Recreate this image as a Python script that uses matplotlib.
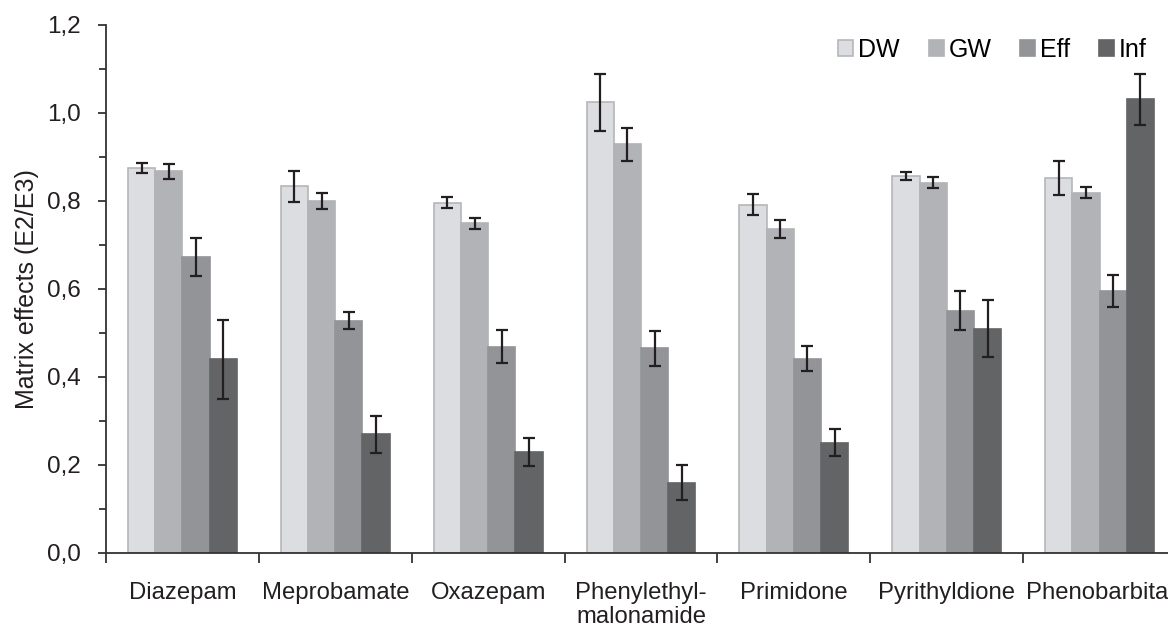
import matplotlib
matplotlib.use("Agg")
import matplotlib.pyplot as plt
import numpy as np

plt.rcParams['font.family'] = ['Liberation Sans', 'DejaVu Sans']

categories = ["Diazepam", "Meprobamate", "Oxazepam", "Phenylethyl-\nmalonamide",
              "Primidone", "Pyrithyldione", "Phenobarbital"]
series = ["DW", "GW", "Eff", "Inf"]
dw = [0.875, 0.833, 0.796, 1.024, 0.792, 0.857, 0.852]
gw = [0.868, 0.800, 0.749, 0.929, 0.737, 0.842, 0.819]
eff = [0.673, 0.528, 0.469, 0.465, 0.442, 0.551, 0.595]
inf = [0.440, 0.270, 0.230, 0.160, 0.251, 0.510, 1.031]
dw_err = [0.011, 0.035, 0.012, 0.064, 0.023, 0.009, 0.039]
gw_err = [0.017, 0.018, 0.013, 0.037, 0.020, 0.012, 0.013]
eff_err = [0.044, 0.020, 0.037, 0.040, 0.028, 0.044, 0.037]
inf_err = [0.090, 0.042, 0.032, 0.040, 0.031, 0.064, 0.058]

values = [dw, gw, eff, inf]
errors = [dw_err, gw_err, eff_err, inf_err]
colors = ["#dcdde0", "#b2b3b7", "#939498", "#636466"]
edges = ["#b5b6b9", "#b2b3b7", "#939498", "#636466"]

fig = plt.figure(figsize=(11.68, 6.27), dpi=100)
ax = fig.add_axes([106/1168, 74/627, 1070/1168, 528/627])

x = np.arange(len(categories))
w = 0.178
for i, (vals, errs) in enumerate(zip(values, errors)):
    pos = x + (i - 1.5) * w
    ax.bar(pos, vals, width=w, color=colors[i], edgecolor=edges[i],
           linewidth=1.2, label=series[i], zorder=2)
    ax.errorbar(pos, vals, yerr=errs, fmt='none', ecolor='#231f20',
                elinewidth=1.6, capsize=4.3, capthick=1.6, zorder=3)

ax.set_xlim(-0.5, len(categories) - 0.5)
ax.set_ylim(0, 1.2)
ax.set_yticks(np.arange(0, 1.21, 0.2))
ax.set_yticklabels([f"{v:.1f}".replace('.', ',') for v in np.arange(0, 1.21, 0.2)])
ax.set_yticks(np.arange(0.1, 1.2, 0.2), minor=True)
ax.set_xticks(np.arange(-0.5, len(categories) + 0.5, 1.0))
ax.set_xticklabels([])
ax.set_xticks(x, minor=True)
ax.set_xticklabels(categories, minor=True)

for s in ['top', 'right']:
    ax.spines[s].set_visible(False)
for s in ['left', 'bottom']:
    ax.spines[s].set_color('#333333')
    ax.spines[s].set_linewidth(1.3)

ax.tick_params(axis='y', which='major', length=6, width=1.3, color='#333333',
               labelsize=17.5, pad=12, labelcolor='#231f20')
ax.tick_params(axis='y', which='minor', length=5, width=1.3, color='#333333')
ax.tick_params(axis='x', which='major', length=7, width=1.3, color='#333333')
ax.tick_params(axis='x', which='minor', length=0, labelsize=17.2, pad=21,
               labelcolor='#231f20')
for lab in ax.get_xticklabels(minor=True):
    lab.set_linespacing(1.1)
    lab.set_verticalalignment('top')

ax.set_ylabel("Matrix effects (E2/E3)", fontsize=18, color='#231f20', labelpad=6)

leg = ax.legend(loc='upper right', bbox_to_anchor=((1157 - 106) / 1070, 0.995), ncol=4,
                frameon=False, fontsize=18, handlelength=0.6, handleheight=0.6,
                handletextpad=0.2, columnspacing=1.15, borderaxespad=0.0)

fig.savefig("out.png", dpi=100)
